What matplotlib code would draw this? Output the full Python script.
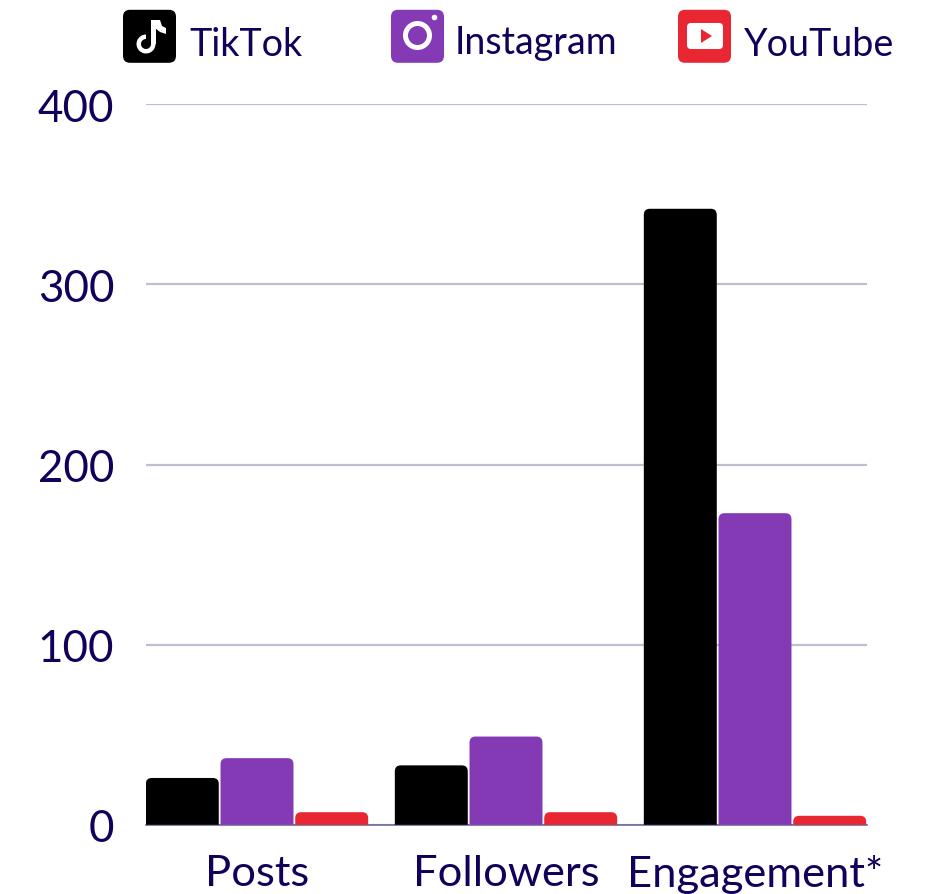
import matplotlib
matplotlib.use("Agg")
import matplotlib.pyplot as plt
from matplotlib.patches import PathPatch, FancyBboxPatch, Circle, Polygon, Wedge, Rectangle
from matplotlib.path import Path

plt.rcParams['font.family'] = ['Lato', 'DejaVu Sans']

categories = ["Posts", "Followers", "Engagement*"]
tiktok = [26, 33, 342]
instagram = [37, 49, 173]
youtube = [7, 7, 5]
y_ticks = [0, 100, 200, 300, 400]

INK = "#12005a"
GRID = "#c0bdd3"
BLACK = "#000000"
PURPLE = "#853ab5"
RED = "#e92733"

W, H = 938, 895


def rounded_bar(ax, x, width, height, color):
    # square at the base, small rounded corners on top (6 px radius)
    rx = 6 / 249
    ry = 6 / 1.8025
    ry = min(ry, height)
    l, r = x - width / 2, x + width / 2
    verts = [(l, 0), (l, height - ry), (l, height), (l + rx, height),
             (r - rx, height), (r, height), (r, height - ry), (r, 0), (l, 0)]
    codes = [Path.MOVETO, Path.LINETO, Path.CURVE3, Path.CURVE3,
             Path.LINETO, Path.CURVE3, Path.CURVE3, Path.LINETO, Path.CLOSEPOLY]
    ax.add_patch(PathPatch(Path(verts, codes), facecolor=color, edgecolor="none", zorder=3))


fig = plt.figure(figsize=(W / 100, H / 100), dpi=100)
ax = fig.add_axes([146 / W, 1 - 825.8 / H, (867 - 146) / W, (825.8 - 105.3) / H])

step = 0.3
bar_w = 0.293
for i in range(len(categories)):
    rounded_bar(ax, i - step, bar_w, tiktok[i], BLACK)
    rounded_bar(ax, i, bar_w, instagram[i], PURPLE)
    rounded_bar(ax, i + step, bar_w, youtube[i], RED)

ax.set_xlim(-111 / 249, 610 / 249)
ax.set_ylim(0, 400)
ax.set_xticks(range(len(categories)))
ax.set_xticklabels(categories)
ax.set_yticks(y_ticks)
ax.tick_params(axis="x", length=0, pad=21, labelsize=31.3, labelcolor=INK)
ax.tick_params(axis="y", length=0, pad=22.8, labelsize=31.6, labelcolor=INK)
ax.grid(axis="y", color=GRID, linewidth=1.6, zorder=1)
ax.set_axisbelow(True)
for name in ["top", "right", "left"]:
    ax.spines[name].set_visible(False)
ax.spines["bottom"].set_color("#6f6799")
ax.spines["bottom"].set_linewidth(1.2)

# legend row on a pixel-sized overlay
leg = fig.add_axes([0, 0, 1, 1])
leg.set_xlim(0, W)
leg.set_ylim(H, 0)
leg.axis("off")
leg.patch.set_alpha(0)


def icon_box(x, color):
    leg.add_patch(FancyBboxPatch((x + 6, 16.8), 41, 41, boxstyle="round,pad=6,rounding_size=7",
                                 facecolor=color, edgecolor="none"))


# TikTok
icon_box(123, BLACK)
leg.add_patch(Wedge((146, 45), 9.5, 0, 270, width=4.5, facecolor="white", edgecolor="none"))
leg.add_patch(Rectangle((151, 21), 5, 24, facecolor="white", edgecolor="none"))
leg.add_patch(Polygon([(155, 21), (160, 21), (162, 27), (166, 29), (166, 35), (160, 33), (155, 29)],
                      closed=True, facecolor="white", edgecolor="none"))

# Instagram
icon_box(391, PURPLE)
leg.add_patch(Circle((417.5, 36.5), 12, facecolor="none", edgecolor="white", linewidth=3.6))
leg.add_patch(Circle((434.5, 18.5), 2.8, facecolor="white", edgecolor="none"))

# YouTube
icon_box(678, RED)
leg.add_patch(FancyBboxPatch((691, 28), 28, 18, boxstyle="round,pad=4,rounding_size=4",
                             facecolor="white", edgecolor="none"))
leg.add_patch(Polygon([(701, 30), (701, 44), (712, 37)], closed=True, facecolor=RED, edgecolor="none"))

leg.text(189.5, 55.5, "TikTok", fontsize=27.2, color=INK, va="baseline")
leg.text(454.5, 53.8, "Instagram", fontsize=27, color=INK, va="baseline")
leg.text(744, 55.5, "YouTube", fontsize=27.2, color=INK, va="baseline")

fig.savefig("out.png", dpi=100)
